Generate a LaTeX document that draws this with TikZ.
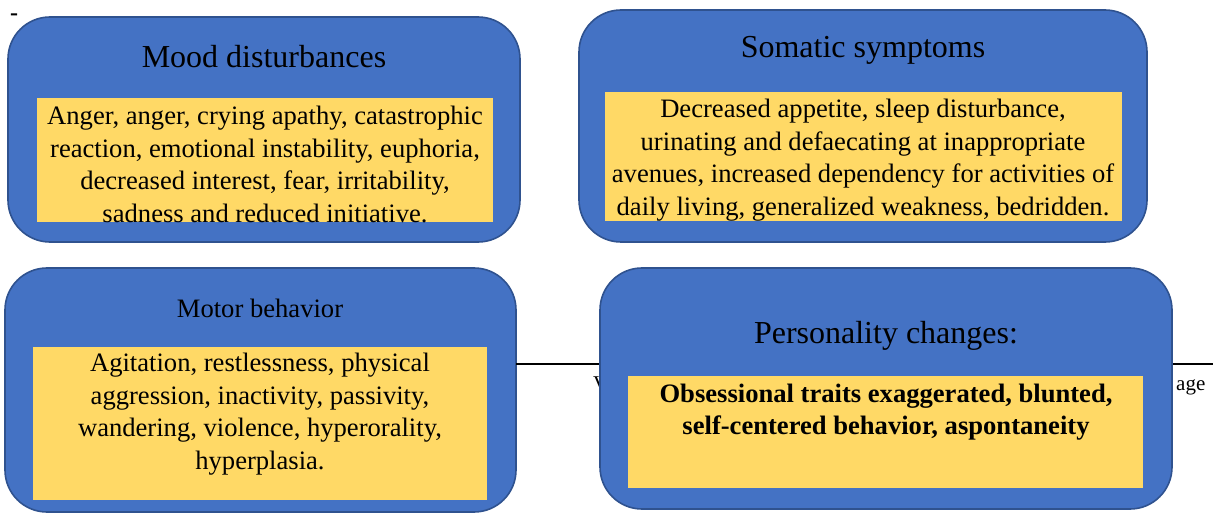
\documentclass[tikz,border=0pt]{standalone}
\usepackage{fontspec}
\setmainfont{Liberation Serif}
\definecolor{panelblue}{HTML}{4472C4}
\definecolor{paneledge}{HTML}{2F528F}
\definecolor{noteyellow}{HTML}{FFD966}
\begin{document}
\begin{tikzpicture}[x=1pt,y=-1pt,
        panel/.style={draw=paneledge,line width=1.6pt,fill=panelblue,rounded corners=42pt,inner sep=0pt},
        note/.style={fill=noteyellow,inner sep=0pt},
        heading/.style={font=\fontsize{32}{38}\selectfont,inner sep=0pt},
        body/.style={align=center,font=\fontsize{26.6}{32.5}\selectfont,inner sep=0pt}]
        \useasboundingbox (0,0) rectangle (1213,513);

        \node[font=\fontsize{24}{24}\selectfont\bfseries,inner sep=0pt,anchor=base] (dash) at (14,20.5) {-};

        % top row
        \node[panel,minimum width=512pt,minimum height=225pt] (mood) at (264,129.5) {};
        \node[note,minimum width=456pt,minimum height=124pt] (moodnote) at (265,160) {};
        \node[heading] (moodtitle) at (264,57) {Mood disturbances};
        \node[body] (moodtext) at (265,164.5) {Anger, anger, crying apathy, catastrophic\\ reaction, emotional instability, euphoria,\\ decreased interest, fear, irritability,\\ sadness and reduced initiative.};

        \node[panel,minimum width=568pt,minimum height=232pt] (soma) at (863,126) {};
        \node[note,minimum width=517pt,minimum height=129pt] (somanote) at (863.5,156.5) {};
        \node[heading] (somatitle) at (863,50) {Somatic symptoms};
        \node[body] (somatext) at (863,160) {Decreased appetite, sleep disturbance,\\ urinating and defaecating at inappropriate\\ avenues, increased dependency for activities of\\ daily living, generalized weakness, bedridden.};

        % bottom row
        \node[panel,minimum width=511pt,minimum height=244pt] (motor) at (260.5,390) {};
        \node[note,minimum width=454pt,minimum height=153pt] (motornote) at (260,423.5) {};
        \node[body] (motortitle) at (260,308) {Motor behavior};
        \node[body] (motortext) at (260,414) {Agitation, restlessness, physical\\ aggression, inactivity, passivity,\\ wandering, violence, hyperorality,\\ hyperplasia.};

        \coordinate (rulestart) at (516,364);
        \coordinate (ruleend) at (1213,364);
        \draw[line width=1.5pt] (rulestart) -- (ruleend);
        \node[font=\fontsize{21}{21}\selectfont,inner sep=0pt,anchor=base west] (leftword) at (593,390) {V};
        \node[font=\fontsize{21}{21}\selectfont,inner sep=0pt,anchor=base west] (rightword) at (1176,390) {age};

        \node[panel,minimum width=572pt,minimum height=241pt] (person) at (886,388.5) {};
        \node[note,minimum width=515pt,minimum height=112pt] (personnote) at (885.5,432) {};
        \node[heading] (persontitle) at (886,336) {Personality changes:};
        \node[body,font=\fontsize{26.6}{32.5}\selectfont\bfseries] (persontext) at (886,412) {Obsessional traits exaggerated, blunted,\\ self-centered behavior, aspontaneity};

    \end{tikzpicture}
\end{document}
